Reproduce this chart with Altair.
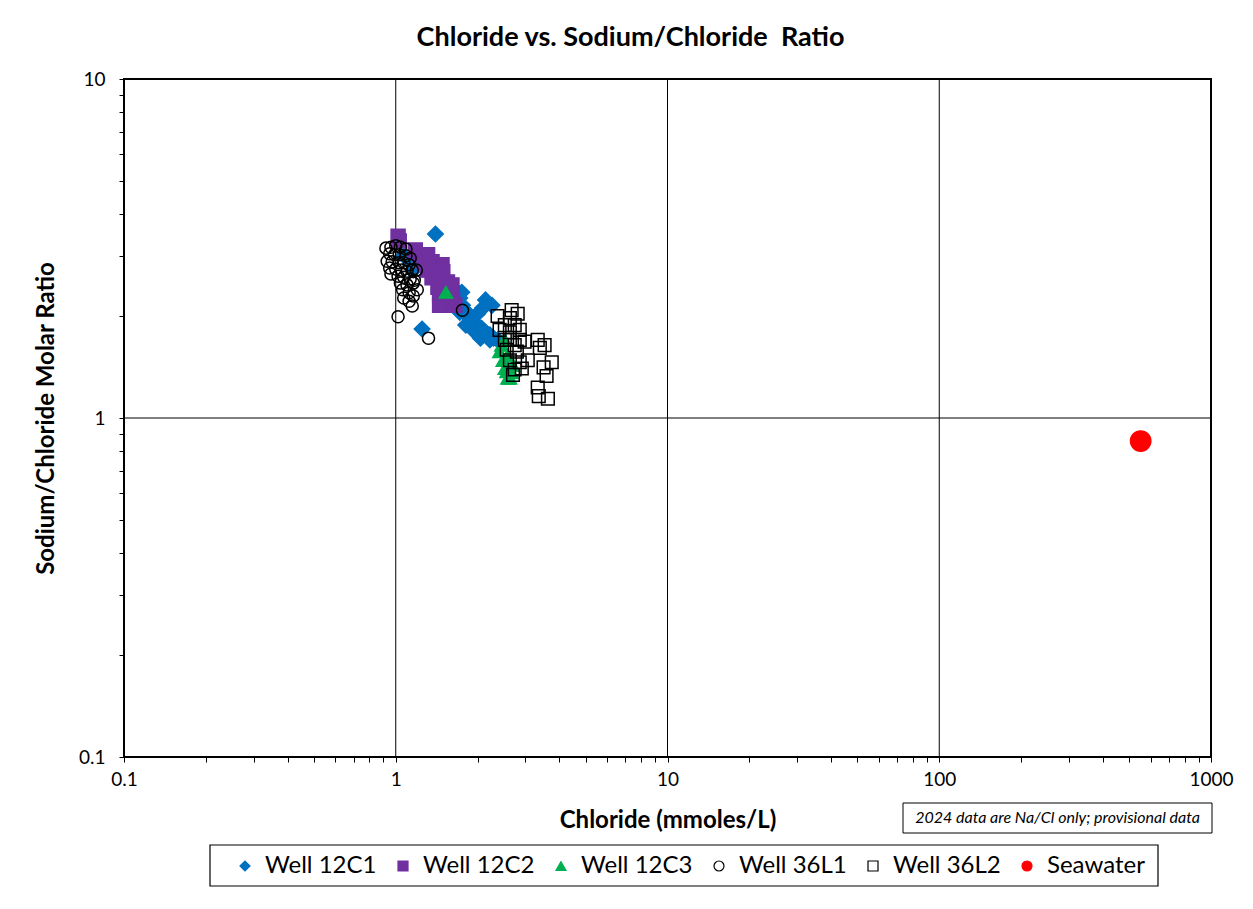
import altair as alt
import pandas as pd

series_names = ["Well 12C1", "Well 12C2", "Well 12C3", "Well 36L1", "Well 36L2", "Seawater"]

w12c1_cl = [1.40, 1.25, 2.14, 1.07, 1.15, 1.16, 1.65, 1.72, 1.76, 1.83, 1.87, 1.94, 2.00, 2.07, 2.14,
            2.22, 2.29, 2.37, 1.90, 2.00, 2.09, 1.65, 1.72, 1.75, 2.26, 1.81, 1.92, 2.05, 2.22]
w12c1_ratio = [3.49, 1.83, 2.23, 3.01, 2.89, 2.73, 2.35, 2.26, 2.15, 2.05, 1.97, 1.92, 1.87, 1.84, 1.79,
               1.76, 1.72, 1.70, 1.95, 2.03, 2.11, 2.15, 2.05, 2.35, 2.15, 1.88, 1.82, 1.72, 1.70]

w12c2_cl = [1.02, 1.03, 1.18, 1.23, 1.31, 1.27, 1.36, 1.48, 1.31, 1.40, 1.49, 1.36, 1.45, 1.55, 1.61,
            1.43, 1.51, 1.61, 1.45, 1.55, 1.62, 1.49, 1.58, 1.45, 1.65]
w12c2_ratio = [3.44, 3.33, 3.13, 3.03, 3.03, 2.89, 2.89, 2.83, 2.73, 2.73, 2.70, 2.59, 2.55, 2.52, 2.47,
               2.43, 2.39, 2.34, 2.31, 2.26, 2.23, 2.18, 2.15, 2.15, 2.15]

w12c3_cl = [1.53, 2.52, 2.45, 2.41, 2.58, 2.48, 2.70, 2.52, 2.56, 2.67, 2.58, 2.63]
w12c3_ratio = [2.35, 1.70, 1.64, 1.57, 1.53, 1.48, 1.43, 1.40, 1.37, 1.36, 1.31, 1.31]

w36l1_cl = [0.92, 0.96, 1.00, 1.04, 1.09, 0.95, 0.99, 1.03, 1.09, 1.13, 0.93, 0.97, 1.03, 1.07, 1.12,
            0.95, 1.00, 1.05, 1.10, 1.15, 0.96, 1.02, 1.07, 1.13, 1.17, 1.04, 1.10, 1.16, 1.20, 1.06,
            1.12, 1.16, 1.07, 1.12, 1.15, 1.02, 1.32, 1.76, 1.19]
w36l1_ratio = [3.17, 3.19, 3.22, 3.19, 3.15, 3.05, 3.03, 3.03, 3.01, 2.96, 2.90, 2.89, 2.87, 2.87, 2.83,
               2.77, 2.75, 2.73, 2.71, 2.73, 2.66, 2.62, 2.60, 2.57, 2.55, 2.50, 2.47, 2.50, 2.39, 2.39,
               2.34, 2.29, 2.26, 2.21, 2.14, 1.99, 1.72, 2.08, 2.73]

w36l2_cl = [2.37, 2.63, 2.81, 2.52, 2.74, 2.41, 2.63, 2.86, 2.52, 2.74, 2.86, 2.98, 2.56, 2.79, 2.63,
            2.86, 2.74, 2.91, 3.06, 2.70, 3.33, 3.39, 3.53, 3.75, 3.50, 3.59, 3.33, 3.36, 3.63, 2.63, 2.67]
w36l2_ratio = [2.00, 1.97, 2.03, 1.88, 1.88, 1.82, 1.79, 1.82, 1.70, 1.64, 1.70, 1.68, 1.59, 1.57, 1.48,
               1.46, 1.39, 1.40, 1.48, 1.34, 1.70, 1.61, 1.64, 1.46, 1.41, 1.33, 1.23, 1.16, 1.14, 1.70, 2.08]

seawater_cl = [551.0]
seawater_ratio = [0.855]

x_major = [0.1, 1, 10, 100, 1000]
y_major = [0.1, 1, 10]
x_minor = [round(m * 10 ** e, 6) for e in range(-1, 3) for m in range(2, 10)]
y_minor = [round(m * 10 ** e, 6) for e in range(-1, 1) for m in range(2, 10)]

note_text = "2024 data are Na/Cl only; provisional data"
title_text = "Chloride vs. Sodium/Chloride\u00a0 Ratio"

rows = []
for name, xs, ys in zip(series_names,
                        [w12c1_cl, w12c2_cl, w12c3_cl, w36l1_cl, w36l2_cl, seawater_cl],
                        [w12c1_ratio, w12c2_ratio, w12c3_ratio, w36l1_ratio, w36l2_ratio, seawater_ratio]):
    for xv, yv in zip(xs, ys):
        rows.append({"series": name, "chloride": xv, "ratio": yv})
df = pd.DataFrame(rows)

FONT = "Lato"
W, H = 1087, 678

xscale = alt.Scale(type="log", domain=[0.1, 1000], nice=False)
yscale = alt.Scale(type="log", domain=[0.1, 10], nice=False)

label_expr = ("abs(log(datum.value)/LN10 - round(log(datum.value)/LN10)) < 0.001 "
              "? format(datum.value, '~g') : ''")

xaxis = alt.Axis(values=sorted(x_major + x_minor), labelExpr=label_expr, grid=False, domain=False,
                 tickSize=5, tickColor="black", tickWidth=1, labelFont=FONT, labelFontSize=19,
                 labelColor="black", labelPadding=8, labelFlush=False, labelOverlap=False,
                 title="Chloride (mmoles/L)", titleFont=FONT, titleFontSize=24, titleFontWeight="bold",
                 titleColor="black", titlePadding=19)
yaxis = alt.Axis(values=sorted(y_major + y_minor), labelExpr=label_expr, grid=False, domain=False,
                 tickSize=5, tickColor="black", tickWidth=1, labelFont=FONT, labelFontSize=19,
                 labelColor="black", labelPadding=14, labelFlush=False, labelOverlap=False,
                 title="Sodium/Chloride Molar Ratio", titleFont=FONT, titleFontSize=24,
                 titleFontWeight="bold", titleColor="black", titlePadding=20)

shapes = ["diamond", "square", "triangle-up", "circle", "square", "circle"]
fills = ["#0070C0", "#7030A0", "#00B050", "transparent", "transparent", "#FF0000"]
strokes = ["#0070C0", "#7030A0", "#00B050", "black", "black", "#FF0000"]
sizes = [250, 200, 190, 145, 160, 420]
stroke_widths = [1.3, 1.3, 1.3, 1.5, 1.5, 1.3]

legend = alt.Legend(title=None, orient="none", legendX=101, legendY=767, direction="horizontal",
                    gridAlign="each")
shape_enc = alt.Shape("series:N", scale=alt.Scale(domain=series_names, range=shapes), legend=legend)
fill_enc = alt.Fill("series:N", scale=alt.Scale(domain=series_names, range=fills), legend=legend)
stroke_enc = alt.Stroke("series:N", scale=alt.Scale(domain=series_names, range=strokes), legend=legend)

xgrid = alt.Chart(pd.DataFrame({"chloride": x_major[1:-1]})).mark_rule(color="black", strokeWidth=1).encode(
    x=alt.X("chloride:Q", scale=xscale, axis=xaxis)
)
ygrid = alt.Chart(pd.DataFrame({"ratio": y_major[1:-1]})).mark_rule(color="black", strokeWidth=1).encode(
    y=alt.Y("ratio:Q", scale=yscale, axis=yaxis)
)

point_layers = []
for name, sz, sw in zip(series_names, sizes, stroke_widths):
    point_layers.append(
        alt.Chart(df).transform_filter(alt.datum.series == name)
        .mark_point(strokeWidth=sw, opacity=1, size=sz)
        .encode(
            x=alt.X("chloride:Q", scale=xscale, axis=xaxis),
            y=alt.Y("ratio:Q", scale=yscale, axis=yaxis),
            shape=shape_enc, fill=fill_enc, stroke=stroke_enc,
        )
    )

note_df = pd.DataFrame({"note": [note_text]})
note_box = alt.Chart(note_df).mark_rect(fill="white", stroke="black", strokeWidth=1).encode(
    x=alt.value(779), x2=alt.value(1088), y=alt.value(724), y2=alt.value(754)
)
note_label = alt.Chart(note_df).mark_text(font=FONT, fontStyle="italic", fontSize=16, color="black",
                                          align="center", baseline="middle").encode(
    x=alt.value(933.5), y=alt.value(739), text="note:N"
)
legend_box = alt.Chart(note_df).mark_rect(fill="white", stroke="black", strokeWidth=1.2).encode(
    x=alt.value(86), x2=alt.value(1034), y=alt.value(766), y2=alt.value(807)
)

chart = alt.layer(xgrid, ygrid, *point_layers, note_box, note_label, legend_box).properties(
    width=W, height=H,
    title=alt.TitleParams(title_text, font=FONT, fontSize=27, fontWeight="bold", color="black",
                          anchor="middle", frame="group", dx=-37, offset=18),
    autosize=alt.AutoSizeParams(type="none"),
    padding={"left": 116, "top": 71, "right": 34, "bottom": 144},
    background="white",
).configure_view(stroke="black", strokeWidth=2).configure_legend(
    padding=8, labelFont=FONT, labelFontSize=24, labelColor="black", symbolSize=100,
    symbolStrokeWidth=1.2, columnPadding=14, labelOffset=8
)

chart.save("out.html", embed_options={"renderer": "svg", "actions": False})
